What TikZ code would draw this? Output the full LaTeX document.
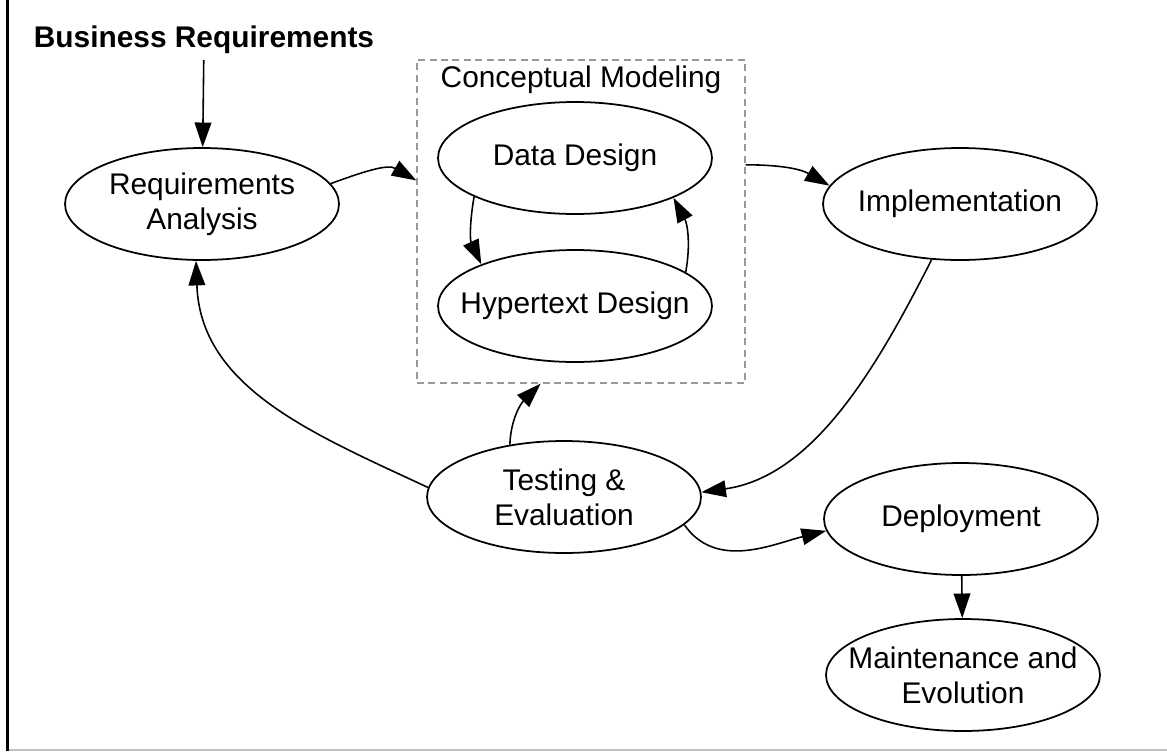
\documentclass[tikz,border=0pt]{standalone}
\usepackage{fontspec}
\setmainfont{Liberation Sans}
\usetikzlibrary{shapes.geometric,arrows.meta}
\tikzset{
  stg/.style={draw, shape=ellipse, line width=1pt, minimum width=5.48cm, minimum height=2.24cm, inner sep=0pt},
  flow/.style={line width=0.9pt, -{Triangle[length=14pt,width=9.5pt]}},
  grp/.style={draw=black!40, dash pattern=on 4pt off 2.5pt, line width=0.8pt, minimum width=6.56cm, minimum height=6.46cm, inner sep=0pt}
}
\def\stage(#1,#2,#3,#4){
  \node[stg] (#1) at (#2,#3) {};
  \node[align=center] (#1_txt) at (#1) {#4};
}
\begin{document}
\begin{tikzpicture}[x=0.02cm, y=-0.02cm, font=\fontsize{17}{20}\selectfont]
\useasboundingbox (0,0) rectangle (1167,751);
\draw[line width=1.7pt] (7.5,0) -- (7.5,751);
\draw[black!25, line width=0.6pt] (9,750) -- (1167,750);
\node[font=\fontsize{17}{20}\selectfont\bfseries] (biz) at (204,40) {Business Requirements};
\node[grp] (cm) at (581,221.5) {};
\node[anchor=north] (cm_txt) at (cm.north) {Conceptual Modeling};
\stage(ra,202,204,Requirements\\Analysis)
\stage(dd,575,158,Data Design)
\stage(hd,575,306,Hypertext Design)
\stage(impl,960,204,Implementation)
\stage(test,564,497,Testing \&\\Evaluation)
\stage(dep,961,519,Deployment)
\stage(mnt,963,675,Maintenance and\\Evolution)
\draw[flow] (biz) -- (ra);
\draw[flow] (ra.9) to[out=20,in=150] (cm.166);
\draw[flow] (cm.19) to[out=0,in=150] (impl.172);
\draw[flow] (dd.201) to[out=260,in=115] (hd.156);
\draw[flow] (hd.17) to[out=80,in=-62] (dd.338);
\draw[flow] (impl.243) to[out=243,in=8,looseness=0.9] (test.2);
\draw[flow] (test.136) to[out=88,in=225] (cm.256);
\draw[flow] (test.176) to[out=155,in=-88] (ra.264);
\draw[flow] (test.-13) to[out=-55,in=194] (dep.185);
\draw[flow] (dep) -- (mnt);
\end{tikzpicture}
\end{document}
